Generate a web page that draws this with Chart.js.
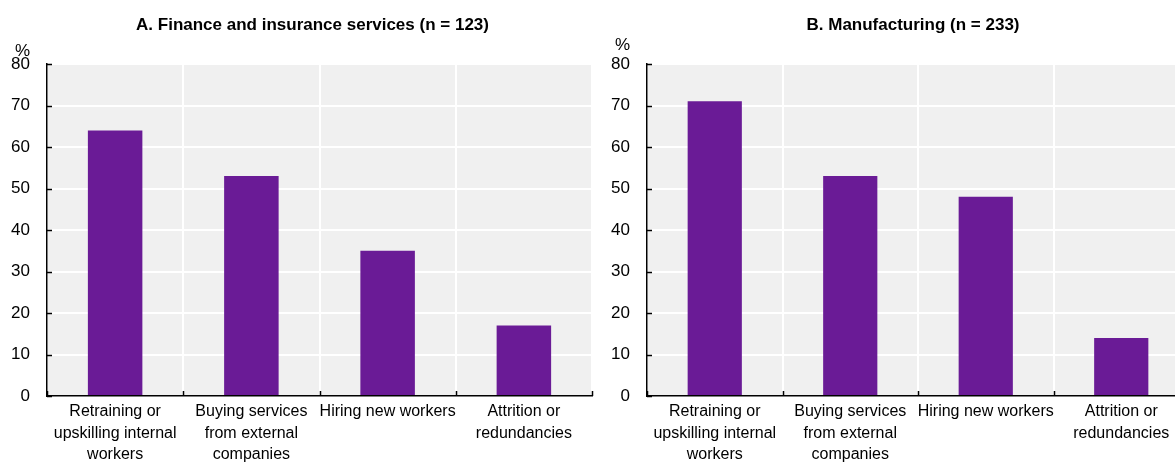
<!DOCTYPE html>
<html>
<head>
<meta charset="utf-8">
<script src="https://cdn.jsdelivr.net/npm/chart.js@4/dist/chart.umd.min.js"></script>
<style>
  html, body { margin: 0; padding: 0; background: #fff; overflow: hidden; width: 1175px; height: 465px; }
  canvas { position: absolute; top: 0; }
  #chartA { left: 0; }
  #chartB { left: 600px; }
</style>
</head>
<body>
<canvas id="chartA" width="600" height="465"></canvas>
<canvas id="chartB" width="590" height="465"></canvas>
<script>
const categories = [
    ['Retraining or', 'upskilling internal', 'workers'],
    ['Buying services', 'from external', 'companies'],
    ['Hiring new workers'],
    ['Attrition or', 'redundancies']
];
const financeValues = [64, 53, 35, 17];
const manufacturingValues = [71, 53, 48, 14];
const titleA = 'A. Finance and insurance services (n = 123)';
const titleB = 'B. Manufacturing (n = 233)';
const yTicks = [0, 10, 20, 30, 40, 50, 60, 70, 80];

const fontFam = "'Liberation Sans', Arial, sans-serif";
const barColor = '#6a1b96';

// grey plot background, titles, % label and inner ticks
const panelPlugin = {
    id: 'panel',
    beforeDraw(chart) {
        const a = chart.chartArea;
        const ctx = chart.ctx;
        ctx.save();
        ctx.fillStyle = '#f0f0f0';
        ctx.fillRect(a.left, a.top, a.right - a.left, a.bottom - a.top);
        ctx.restore();
    },
    afterDraw(chart, args, opts) {
        const a = chart.chartArea;
        const ctx = chart.ctx;
        const x = chart.scales.x;
        const y = chart.scales.y;
        ctx.save();
        ctx.fillStyle = '#000';
        ctx.font = 'bold 17px ' + fontFam;
        ctx.textAlign = 'center';
        ctx.textBaseline = 'middle';
        ctx.fillText(opts.title, (a.left + a.right) / 2 + opts.titleShift, 25);
        ctx.font = '17px ' + fontFam;
        ctx.textAlign = 'right';
        ctx.fillText('%', a.left - opts.pctShift, opts.pctY);
        ctx.strokeStyle = '#000';
        ctx.lineWidth = 1.5;
        ctx.beginPath();
        for (let i = 0; i <= categories.length; i++) {
            const px = Math.round(x.getPixelForValue(i - 0.5)) + 0.5;
            ctx.moveTo(px, a.bottom);
            ctx.lineTo(px, a.bottom - 5);
        }
        yTicks.forEach(v => {
            const py = Math.round(y.getPixelForValue(v)) + 0.5;
            ctx.moveTo(a.left, py);
            ctx.lineTo(a.left + 5, py);
        });
        ctx.stroke();
        ctx.restore();
    }
};

function makeChart(id, values, title, titleShift, pctShift, pctY) {
    return new Chart(document.getElementById(id), {
        type: 'bar',
        data: {
            labels: categories,
            datasets: [{
                data: values,
                backgroundColor: barColor,
                borderWidth: 0,
                barPercentage: 0.4,
                categoryPercentage: 1
            }]
        },
        options: {
            responsive: false,
            animation: false,
            layout: { padding: { top: 64, left: 0, right: id === 'chartA' ? 8 : 1, bottom: 0 } },
            plugins: {
                legend: { display: false },
                tooltip: { enabled: false },
                panel: { title: title, titleShift: titleShift, pctShift: pctShift, pctY: pctY }
            },
            scales: {
                x: {
                    offset: true,
                    grid: { offset: true, color: '#ffffff', lineWidth: 2, drawTicks: false },
                    border: { color: '#000', width: 1.5 },
                    ticks: {
                        color: '#000',
                        font: { family: fontFam, size: 16, lineHeight: 1.35 },
                        padding: 5,
                        maxRotation: 0,
                        autoSkip: false
                    },
                    afterFit(scale) { scale.height = 69; }
                },
                y: {
                    min: 0,
                    max: 80,
                    afterBuildTicks(scale) { scale.ticks = yTicks.map(v => ({ value: v })); },
                    grid: { color: '#ffffff', lineWidth: 2, drawTicks: false },
                    border: { color: '#000', width: 1.5 },
                    ticks: {
                        color: '#000',
                        font: { family: fontFam, size: 17 },
                        padding: 17
                    },
                    afterFit(scale) { scale.width = 47; }
                }
            }
        },
        plugins: [panelPlugin]
    });
}

const chartA = makeChart('chartA', financeValues, titleA, -7, 17, 51);
const chartB = makeChart('chartB', manufacturingValues, titleB, -5, 17, 45);
</script>
</body>
</html>
